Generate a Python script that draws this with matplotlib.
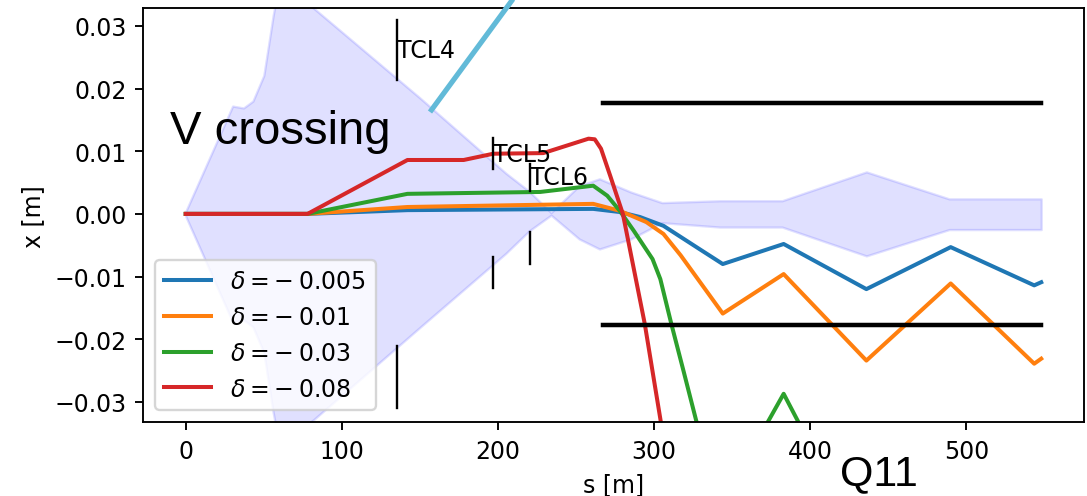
import numpy as np
import matplotlib
matplotlib.use("Agg")
import matplotlib.pyplot as plt
from matplotlib.lines import Line2D

# beam envelope (upper / lower edge) along s
env_s = [0, 30, 37, 43, 50, 56, 60, 82, 150, 205, 220, 234, 252, 265, 285, 305, 342, 382, 436, 489, 548]
env_up = [0.0004, 0.0172, 0.0169, 0.0180, 0.0221, 0.0317, 0.0370, 0.0328, 0.0185, 0.0065, 0.0036, 0.0002,
          0.0045, 0.0056, 0.0035, 0.0018, 0.0021, 0.0021, 0.0067, 0.0024, 0.0024]
env_lo = [-0.0004, -0.0172, -0.0169, -0.0180, -0.0221, -0.0317, -0.0370, -0.0328, -0.0181, -0.0063, -0.0027, -0.0002,
          -0.0040, -0.0056, -0.0040, -0.0014, -0.0021, -0.0021, -0.0067, -0.0025, -0.0025]

# off-momentum orbits
labels = [r"$\delta = -\:0.005$", r"$\delta = -\:0.01$", r"$\delta = -\:0.03$", r"$\delta = -\:0.08$"]
s_blue = [0, 78, 142, 261, 278, 291, 306, 329, 344, 383, 436, 490, 543.5, 548]
x_blue = [0, 0, 0.0006, 0.0008, 0.0003, -0.0005, -0.0019, -0.0056, -0.0080, -0.0048, -0.0120, -0.0053, -0.0114, -0.0109]
s_orange = [0, 78, 142, 261, 278, 295, 306, 317, 344, 383, 436, 490, 543.5, 548]
x_orange = [0, 0, 0.0011, 0.0016, 0.0005, -0.0013, -0.0032, -0.0066, -0.0159, -0.0096, -0.0234, -0.0111, -0.0239, -0.0231]
s_green = [0, 78, 142, 227, 261, 270, 278, 287, 299, 304, 311, 319, 327, 344, 383, 436, 548]
x_green = [0, 0, 0.0032, 0.0035, 0.0045, 0.0029, 0.0005, -0.0027, -0.0072, -0.0104, -0.0175, -0.0252, -0.0330,
           -0.0460, -0.0287, -0.0540, -0.0800]
s_red = [0, 78, 142, 178, 197, 229, 258, 262, 266, 272, 280, 286, 294, 304, 315]
x_red = [0, 0, 0.0086, 0.0086, 0.0096, 0.0097, 0.0120, 0.0119, 0.0104, 0.0060, 0.0, -0.0075, -0.0175, -0.0327, -0.0500]

# collimators: position, upper jaw, lower jaw
coll_names = ["TCL4", "TCL5", "TCL6"]
coll_s = [135, 196.7, 220.5]
coll_up = [(0.0214, 0.0309), (0.0071, 0.0121), (0.0037, 0.0080)]
coll_lo = [(-0.0210, -0.0309), (-0.0069, -0.0118), (-0.0029, -0.0080)]

# aperture
aper_s = [267, 548]
aper_x = 0.0177

fig = plt.figure(figsize=(1087 / 170, 497 / 170), dpi=170)
ax = fig.add_axes([143 / 1087, 1 - 423 / 497, (1084 - 143) / 1087, (423 - 9.3) / 497])

ax.fill_between(env_s, env_lo, env_up, color="blue", alpha=0.12)

ax.plot(s_blue, x_blue, color="tab:blue", lw=1.7, label=labels[0])
ax.plot(s_orange, x_orange, color="tab:orange", lw=1.7, label=labels[1])
ax.plot(s_green, x_green, color="tab:green", lw=1.7, label=labels[2])
ax.plot(s_red, x_red, color="tab:red", lw=1.7, label=labels[3])

for name, s, up, lo in zip(coll_names, coll_s, coll_up, coll_lo):
    ax.plot([s, s], up, color="k", lw=1.0)
    ax.plot([s, s], lo, color="k", lw=1.0)
    ax.text(s, (up[0] + up[1]) / 2, name, ha="left", va="center")

ax.plot(aper_s, [aper_x, aper_x], color="k", lw=1.9)
ax.plot(aper_s, [-aper_x, -aper_x], color="k", lw=1.9)

ax.set_xlim(-27.4, 575.4)
ax.set_ylim(-0.0332, 0.0328)
ax.set_xticks([0, 100, 200, 300, 400, 500])
ax.set_yticks([-0.03, -0.02, -0.01, 0.0, 0.01, 0.02, 0.03])
ax.set_xlabel("s [m]")
ax.set_ylabel("x [m]")
ax.legend(loc="lower left")

# slide annotations
fig.text(170 / 1087, 1 - 144 / 497, "V crossing", fontsize=20, family="Liberation Sans", va="baseline")
fig.text(840 / 1087, 1 - 485 / 497, "Q11", fontsize=18.2, family="Liberation Sans", va="baseline")
fig.add_artist(Line2D([513 / 1087, 430 / 1087], [1.0, 1 - 113 / 497], transform=fig.transFigure,
                      color="#62BAD8", lw=2.2, solid_capstyle="butt"))

fig.savefig("out.png", dpi=170)
